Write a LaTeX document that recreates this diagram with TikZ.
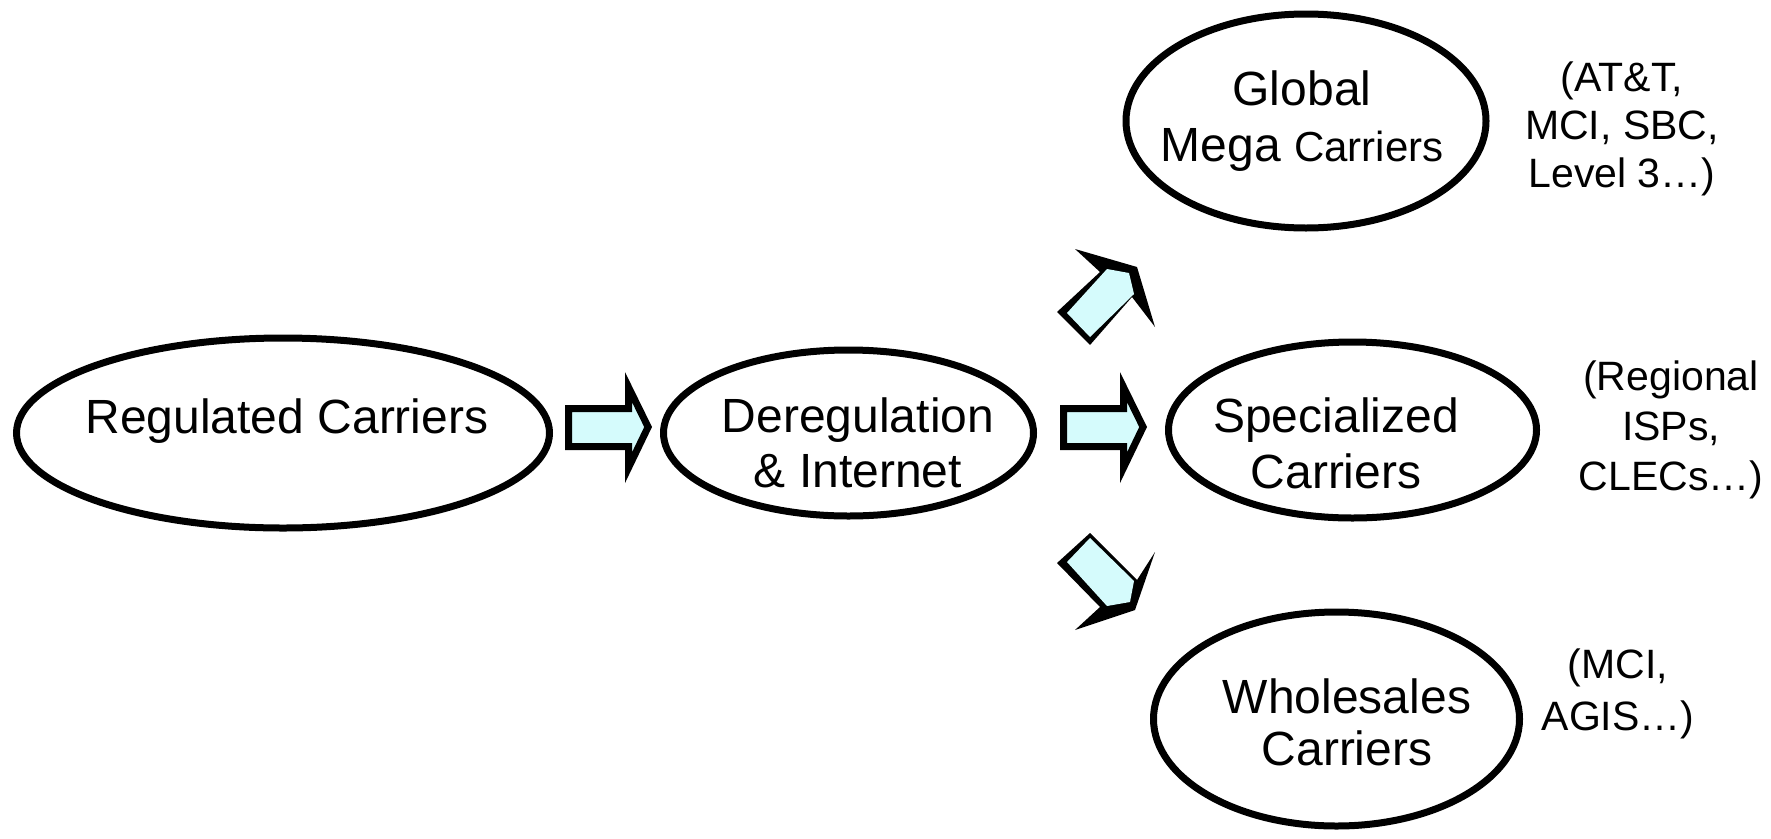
\documentclass[tikz,border=0pt]{standalone}
\usepackage{fontspec}
\setmainfont{Liberation Sans}
\usetikzlibrary{shapes.geometric}
\definecolor{arrowfill}{RGB}{213,251,252}
\tikzset{
  oval/.style={ellipse, draw=black, line width=7pt, inner sep=0pt},
  maintext/.style={font=\fontsize{48}{55}\selectfont, align=center, anchor=base, inner sep=0pt},
  sidetext/.style={font=\fontsize{41}{48}\selectfont, align=center, anchor=base, inner sep=0pt},
  blockarrow/.style={draw=black, fill=arrowfill, line width=7pt, line join=miter},
}
\begin{document}
\begin{tikzpicture}[x=1pt, y=-1pt]
\useasboundingbox (0,0) rectangle (1771,838);
% ovals
\node[oval, minimum width=533pt, minimum height=190pt] (reg) at (283,433) {};
\node[oval, minimum width=370pt, minimum height=166pt] (dereg) at (848.5,433) {};
\node[oval, minimum width=360pt, minimum height=214pt] (glob) at (1306,121) {};
\node[oval, minimum width=368pt, minimum height=176pt] (spec) at (1352.5,430) {};
\node[oval, minimum width=366pt, minimum height=214pt] (whole) at (1336.5,719) {};
% texts in ovals (base anchor = baseline of last line)
\node[maintext] (regT) at (287,433) {Regulated Carriers};
\node[maintext] (deregT) at (858,487) {Deregulation\\\& Internet};
\node[maintext, font=\fontsize{48}{56}\selectfont] (globT) at (1302,161) {Global\\Mega {\fontsize{42}{56}\selectfont Carriers}};
\node[maintext, font=\fontsize{48}{56}\selectfont] (specT) at (1336,488) {Specialized\\Carriers};
\node[maintext, font=\fontsize{48}{52}\selectfont] (wholeT) at (1347,765) {Wholesales\\Carriers};
% side texts
\node[sidetext] (globS) at (1622,187) {(AT\&T,\\MCI, SBC,\\Level 3…)};
\node[sidetext, font=\fontsize{41}{50}\selectfont] (specS) at (1671,490) {(Regional\\ISPs,\\CLECs…)};
\node[sidetext, font=\fontsize{41}{52}\selectfont] (wholeS) at (1618,730) {(MCI,\\AGIS…)};
% horizontal block arrows
\draw[blockarrow] (568.5,408.5) -- (628.5,408.5) -- (628.5,387.1) -- (648.1,427.0)
  -- (628.5,467.7) -- (628.5,446.5) -- (568.5,446.5) -- cycle;
\draw[blockarrow, shift={(495,0)}] (568.5,408.5) -- (628.5,408.5) -- (628.5,387.1) -- (648.1,427.0)
  -- (628.5,467.7) -- (628.5,446.5) -- (568.5,446.5) -- cycle;
% diagonal block arrows (outer black, inner fill)
\fill[black] (1057,312) -- (1100,272) -- (1075,249) -- (1137,267) -- (1155,327) -- (1132,297) -- (1090,345) -- cycle;
\fill[arrowfill] (1067,313) -- (1107,269) -- (1129,273) -- (1134,294) -- (1090,337) -- cycle;
\fill[black] (1057,563) -- (1090,533) -- (1137,580) -- (1155,552) -- (1135,610) -- (1075,630) -- (1100,607) -- cycle;
\fill[arrowfill] (1067,562) -- (1090,538) -- (1134,581) -- (1130,602) -- (1107,606) -- cycle;
\end{tikzpicture}
\end{document}
